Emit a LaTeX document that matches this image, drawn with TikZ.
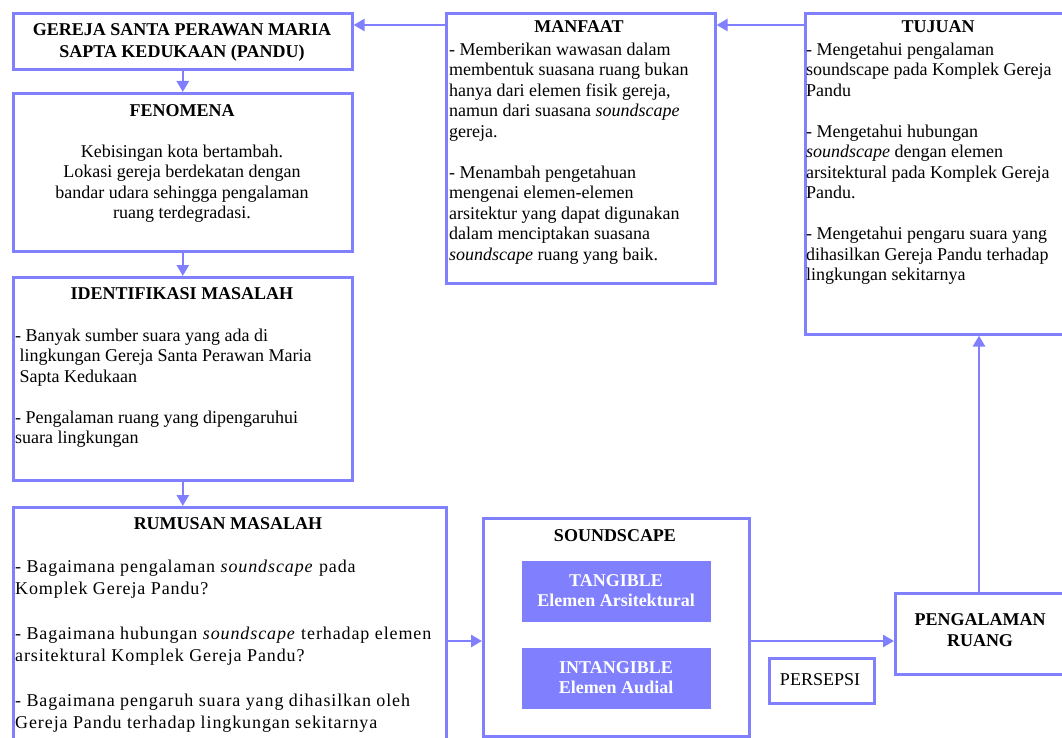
\documentclass[tikz,border=0pt]{standalone}
\usepackage{fontspec}
\setmainfont{Liberation Serif}
\usetikzlibrary{arrows.meta}
\definecolor{boxc}{RGB}{128,128,255}
\begin{document}
\begin{tikzpicture}[x=1pt,y=-1pt,
  box/.style={draw=boxc, line width=2.6pt, inner sep=0pt, anchor=north west},
  fbox/.style={fill=boxc, draw=none, inner sep=0pt, anchor=north west},
  body/.style={font=\fontsize{18}{20.5}\selectfont, inner sep=0pt, align=left, anchor=north west},
  rbody/.style={font=\fontsize{18}{22.3}\selectfont\addfontfeatures{LetterSpace=5}, inner sep=0pt, align=left, anchor=north west},
  ttl/.style={font=\fontsize{18}{20.5}\selectfont\bfseries, inner sep=0pt, anchor=base},
  arr/.style={draw=boxc, line width=2.6pt, -{Triangle[length=11pt,width=12pt]}}]
\useasboundingbox (0,0) rectangle (1062,738);
\clip (0,0) rectangle (1062,738);
% boxes
\node[box, minimum width=339pt, minimum height=56pt]  (gereja) at (12,12) {};
\node[box, minimum width=339pt, minimum height=158pt] (fenomena) at (12,92) {};
\node[box, minimum width=339pt, minimum height=203pt] (ident) at (12,276) {};
\node[box, minimum width=433pt, minimum height=250pt] (rumusan) at (12,506) {};
\node[box, minimum width=269pt, minimum height=270pt] (manfaat) at (445,12) {};
\node[box, minimum width=272pt, minimum height=321pt] (tujuan) at (804,12) {};
\node[box, minimum width=266pt, minimum height=218pt] (sound) at (482,517) {};
\node[fbox, minimum width=189pt, minimum height=61pt] (tang) at (522,561) {};
\node[fbox, minimum width=189pt, minimum height=61pt] (intang) at (522,648) {};
\node[box, minimum width=180pt, minimum height=81pt] (peng) at (894,592) {};
\node[box, minimum width=105pt, minimum height=45pt] (persepsi) at (768,657) {};
% texts
\node[ttl, font=\fontsize{18}{22}\selectfont\bfseries, align=center, anchor=north] (tgereja) at (182,19.6) {\strut GEREJA SANTA PERAWAN MARIA\\SAPTA KEDUKAAN (PANDU)};
\node[ttl] (tfen) at (182,117) {FENOMENA};
\node[body, align=center, anchor=north] (bfen) at (182,142.6) {\strut Kebisingan kota bertambah.\\Lokasi gereja berdekatan dengan\\bandar udara sehingga pengalaman\\ruang terdegradasi.};
\node[ttl] (tident) at (182,299) {IDENTIFIKASI MASALAH};
\node[body] (bident) at (15,326.6) {\strut - Banyak sumber suara yang ada di\\\hspace{4.5pt}lingkungan Gereja Santa Perawan Maria\\\hspace{4.5pt}Sapta Kedukaan\\[20.5pt]- Pengalaman ruang yang dipengaruhui\\suara lingkungan};
\node[ttl] (trum) at (228,529) {RUMUSAN MASALAH};
\node[rbody] (brum) at (15,556.4) {\strut - Bagaimana pengalaman \textit{soundscape} pada\\Komplek Gereja Pandu?\\[22.3pt]- Bagaimana hubungan \textit{soundscape} terhadap elemen\\arsitektural Komplek Gereja Pandu?\\[22.3pt]- Bagaimana pengaruh suara yang dihasilkan oleh\\Gereja Pandu terhadap lingkungan sekitarnya};
\node[ttl] (tman) at (579,33) {MANFAAT};
\node[body] (bman) at (449,40.6) {\strut - Memberikan wawasan dalam\\membentuk suasana ruang bukan\\hanya dari elemen fisik gereja,\\namun dari suasana \textit{soundscape}\\gereja.\\[20.5pt]- Menambah pengetahuan\\mengenai elemen-elemen\\arsitektur yang dapat digunakan\\dalam menciptakan suasana\\\textit{soundscape} ruang yang baik.};
\node[ttl] (ttuj) at (938,33) {TUJUAN};
\node[body] (btuj) at (806,40.6) {\strut - Mengetahui pengalaman\\soundscape pada Komplek Gereja\\Pandu\\[20.5pt]- Mengetahui hubungan\\\textit{soundscape} dengan elemen\\arsitektural pada Komplek Gereja\\Pandu.\\[20.5pt]- Mengetahui pengaru suara yang\\dihasilkan Gereja Pandu terhadap\\lingkungan sekitarnya};
\node[ttl] (tsound) at (615,541) {SOUNDSCAPE};
\node[ttl, align=center, anchor=north, text=white] (ttang) at (616,571.6) {\strut TANGIBLE\\Elemen Arsitektural};
\node[ttl, align=center, anchor=north, text=white] (tintang) at (616,658.6) {\strut INTANGIBLE\\Elemen Audial};
\node[ttl, font=\fontsize{18}{21}\selectfont\bfseries, align=center, anchor=north] (tpeng) at (980,610.3) {\strut PENGALAMAN\\RUANG};
\node[body, anchor=base] (tpers) at (820,685) {PERSEPSI};
% connectors
\coordinate (ay) at (0,641);
\coordinate (ax) at (979,0);
\draw[arr] ([yshift=-13pt]manfaat.north west) -- ([yshift=-13pt]gereja.north east);
\draw[arr] ([yshift=-13pt]tujuan.north west) -- ([yshift=-13pt]manfaat.north east);
\draw[arr] (gereja.south) -- (fenomena.north);
\draw[arr] (fenomena.south) -- (ident.north);
\draw[arr] (ident.south) -- (ident.south |- rumusan.north);
\draw[arr] (rumusan.east |- ay) -- (sound.west |- ay);
\draw[arr] (sound.east |- ay) -- (peng.west |- ay);
\draw[arr] (peng.north -| ax) -- (tujuan.south -| ax);
\end{tikzpicture}
\end{document}
